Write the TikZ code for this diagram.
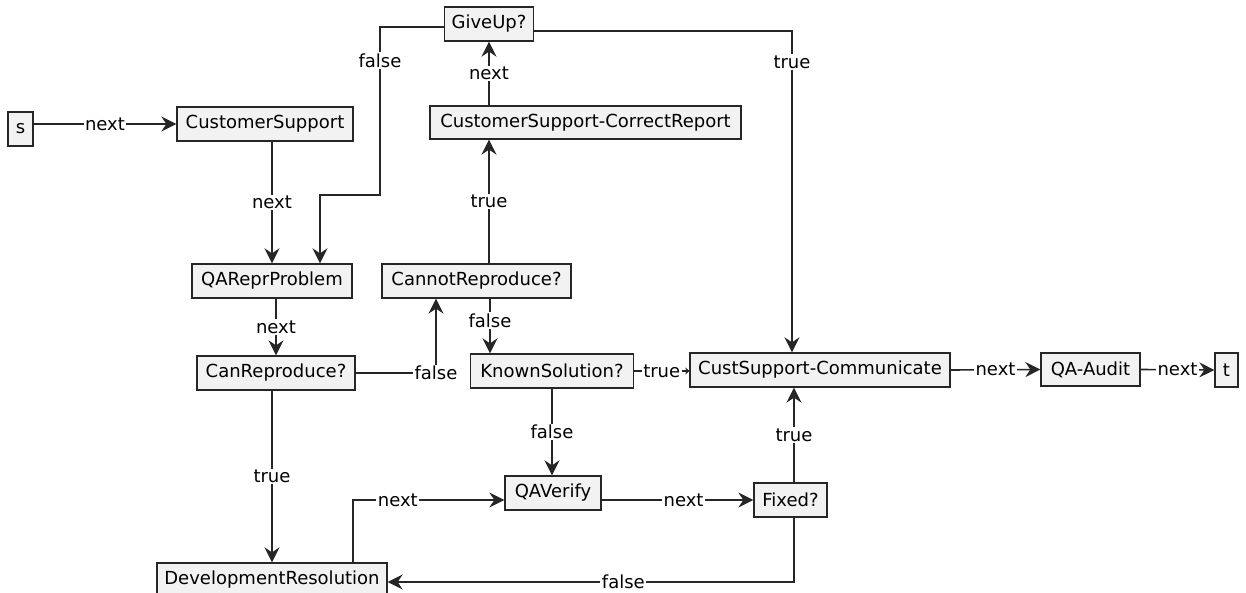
\documentclass[tikz,border=0pt]{standalone}
\usepackage{fontspec}
\setmainfont{DejaVu Sans}
\usetikzlibrary{arrows.meta,calc}
\begin{document}
\begin{tikzpicture}[x=1pt,y=-1pt,
  box/.style={draw=black!85, line width=1.3pt, fill=black!5, inner sep=0pt,
    font=\fontsize{18}{20}\selectfont, text=black},
  lbl/.style={fill=white, inner sep=1.5pt, font=\fontsize{18}{20}\selectfont, text=black},
  conn/.style={draw=black!85, line width=1.6pt, -{Stealth[length=15pt,width=15pt,inset=5pt]}},
  connsmall/.style={draw=black!85, line width=1.6pt, -{Stealth[length=4pt,width=7pt,inset=1pt]}},
]
\useasboundingbox (0,0) rectangle (1246,593);

% nodes
\node[box, minimum width=25pt, minimum height=34pt] (s) at (20.5,129) {s};
\node[box, minimum width=176pt, minimum height=34pt] (CS) at (265,124) {CustomerSupport};
\node[box, minimum width=89pt, minimum height=34pt] (GU) at (489,24) {GiveUp?};
\node[box, minimum width=311pt, minimum height=33pt] (CCR) at (585.5,122.5) {CustomerSupport-CorrectReport};
\node[box, minimum width=160pt, minimum height=34pt] (QAR) at (272,281) {QAReprProblem};
\node[box, minimum width=189pt, minimum height=34pt] (CNR) at (476.5,281) {CannotReproduce?};
\node[box, minimum width=158pt, minimum height=34pt] (CR) at (276,373) {CanReproduce?};
\node[box, minimum width=163pt, minimum height=34pt] (KS) at (552,371) {KnownSolution?};
\node[box, minimum width=260pt, minimum height=34pt] (CSC) at (820,370) {CustSupport-Communicate};
\node[box, minimum width=99pt, minimum height=33pt] (QAA) at (1090.5,369.5) {QA-Audit};
\node[box, minimum width=23pt, minimum height=34pt] (t) at (1226.5,370) {t};
\node[box, minimum width=96pt, minimum height=34pt] (QAV) at (553,493) {QAVerify};
\node[box, minimum width=73pt, minimum height=34pt] (FX) at (790.5,500) {Fixed?};
\node[box, minimum width=230pt, minimum height=34pt] (DR) at (272,580) {DevelopmentResolution};

% helper coordinates
\coordinate (gA) at (380,195);
\path (QAR.north) ++(48,0) coordinate (gB);
\path (CNR.south) ++(-40.5,0) coordinate (cA);
\path (CNR.south) ++(13.5,0) coordinate (cB);
\path (CSC.north) ++(-28,0) coordinate (cC);
\path (FX.north) ++(3.5,0) coordinate (cD);
\path (FX.south) ++(3.5,0) coordinate (cE);
\path (DR.north) ++(81,0) coordinate (cF);

% connectors
\draw[conn] (s.east |- CS.west) -- node[lbl]{next} (CS.west);
\draw[conn] (CS.south -| QAR.north) -- node[lbl]{next} (QAR.north);
\draw[conn] ($(GU.west)+(0,3)$) -| node[lbl,pos=0.6]{false} (gA) -| (gB);
\draw[conn] (CCR.north -| GU.south) -- node[lbl]{next} (GU.south);
\draw[conn] (CNR.north -| GU.south) -- node[lbl]{true} (CCR.south -| GU.south);
\draw[conn] (QAR.south -| CR.north) -- node[lbl]{next} (CR.north);
\draw[conn] (CR.east) -| node[lbl]{false} (cA);
\draw[conn] (cB) -- node[lbl,pos=0.4]{false} (cB |- KS.north);
\draw[conn] ($(GU.east)+(0,7)$) -| node[lbl,pos=0.548]{true} (cC);
\draw[connsmall] (KS.east) -- node[lbl]{true} (KS.east -| CSC.west);
\draw[conn] (CR.south -| DR.north) -- node[lbl]{true} (DR.north);
\draw[conn] (KS.south) -- node[lbl]{false} (KS.south |- QAV.north);
\draw[conn] (cF) |- node[lbl,pos=0.648]{next} ($(QAV.west)+(0,7)$);
\draw[conn] ($(QAV.east)+(0,7)$) -- node[lbl,pos=0.54]{next} (FX.west);
\draw[conn] (cD) -- node[lbl]{true} (cD |- CSC.south);
\draw[conn] (cE) |- node[lbl,pos=0.71]{false} ($(DR.east)+(0,2)$);
\draw[conn] (CSC.east) -- node[lbl]{next} (QAA.west);
\draw[conn] (QAA.east) -- node[lbl]{next} (t.west);
\end{tikzpicture}
\end{document}
